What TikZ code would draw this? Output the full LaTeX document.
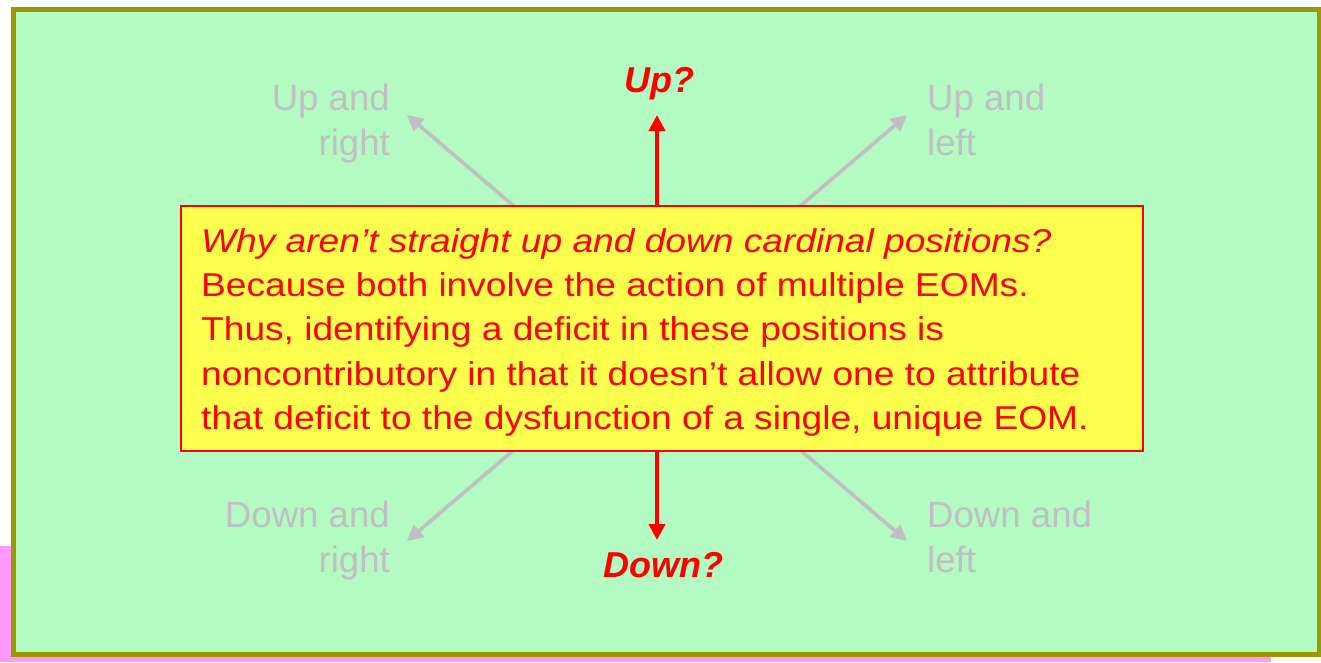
\documentclass[tikz,border=0pt]{standalone}
\usepackage{fontspec}
\setmainfont{Liberation Sans}
\newfontfamily\notefont[FakeStretch=1.125]{Liberation Sans}
\usetikzlibrary{arrows.meta}
\definecolor{bggreen}{RGB}{179,250,195}
\definecolor{frameolive}{RGB}{153,153,0}
\definecolor{notepink}{RGB}{255,153,255}
\definecolor{noteyellow}{RGB}{255,255,77}
\definecolor{labgray}{RGB}{192,192,192}
\definecolor{hotred}{RGB}{255,0,0}
\tikzset{
  grayarrow/.style={draw=labgray, line width=3.6pt, -{Triangle[length=16pt,width=16pt]}},
  redarrow/.style={draw=hotred, line width=4.4pt, -{Triangle[length=16pt,width=16pt]}},
  notebox/.style={draw=hotred, line width=2pt, fill=noteyellow, minimum width=962pt, minimum height=245pt, inner sep=0pt},
  msgtext/.style={text=hotred, inner sep=0pt, align=left, font={\notefont\fontsize{33}{44.3}\selectfont}},
  graylabel/.style={text=labgray, inner sep=0pt, font={\fontsize{36.6}{44.5}\selectfont}},
  redlabel/.style={text=hotred, inner sep=0pt, font={\fontsize{36}{40}\selectfont\bfseries\itshape}},
}
\begin{document}
\begin{tikzpicture}[x=1pt,y=-1pt]
\useasboundingbox (0,0) rectangle (1321,662);
\fill[white] (0,0) rectangle (1321,662);
% underlying slide strip
\fill[notepink] (0,546) rectangle (1271,662);
% green panel
\draw[draw=frameolive, line width=5pt, fill=bggreen] (13,9.5) rectangle (1319,654.5);
% centre and arrow tips
\coordinate (c) at (657,328);
\coordinate (tUR) at (407,115);
\coordinate (tUL) at (907,115);
\coordinate (tDR) at (407,541);
\coordinate (tDL) at (907,541);
\coordinate (tU) at (657,115);
\coordinate (tD) at (657,540);
\draw[grayarrow] (c) -- (tUR);
\draw[grayarrow] (c) -- (tUL);
\draw[grayarrow] (c) -- (tDR);
\draw[grayarrow] (c) -- (tDL);
\draw[redarrow] (c) -- (tU);
\draw[redarrow] (c) -- (tD);
% labels
\node[graylabel, align=right, anchor=north east] (lUR) at (390,84) {Up and\\right};
\node[graylabel, align=left, anchor=north west] (lUL) at (927,84) {Up and\\left};
\node[graylabel, align=right, anchor=north east] (lDR) at (390,501) {Down and\\right};
\node[graylabel, align=left, anchor=north west] (lDL) at (927,501) {Down and\\left};
\node[redlabel, anchor=base] (lU) at (659,92) {Up?};
\node[redlabel, anchor=base] (lD) at (663,577) {Down?};
% note box
\node[notebox] (box) at (662,328.5) {};
\node[msgtext, anchor=north west] (msg) at (201,228) {\textit{Why aren’t straight up and down cardinal positions?}\\
Because both involve the action of multiple EOMs.\\
Thus, identifying a deficit in these positions is\\
noncontributory in that it doesn’t allow one to attribute\\
that deficit to the dysfunction of a single, unique EOM.};
\end{tikzpicture}
\end{document}
